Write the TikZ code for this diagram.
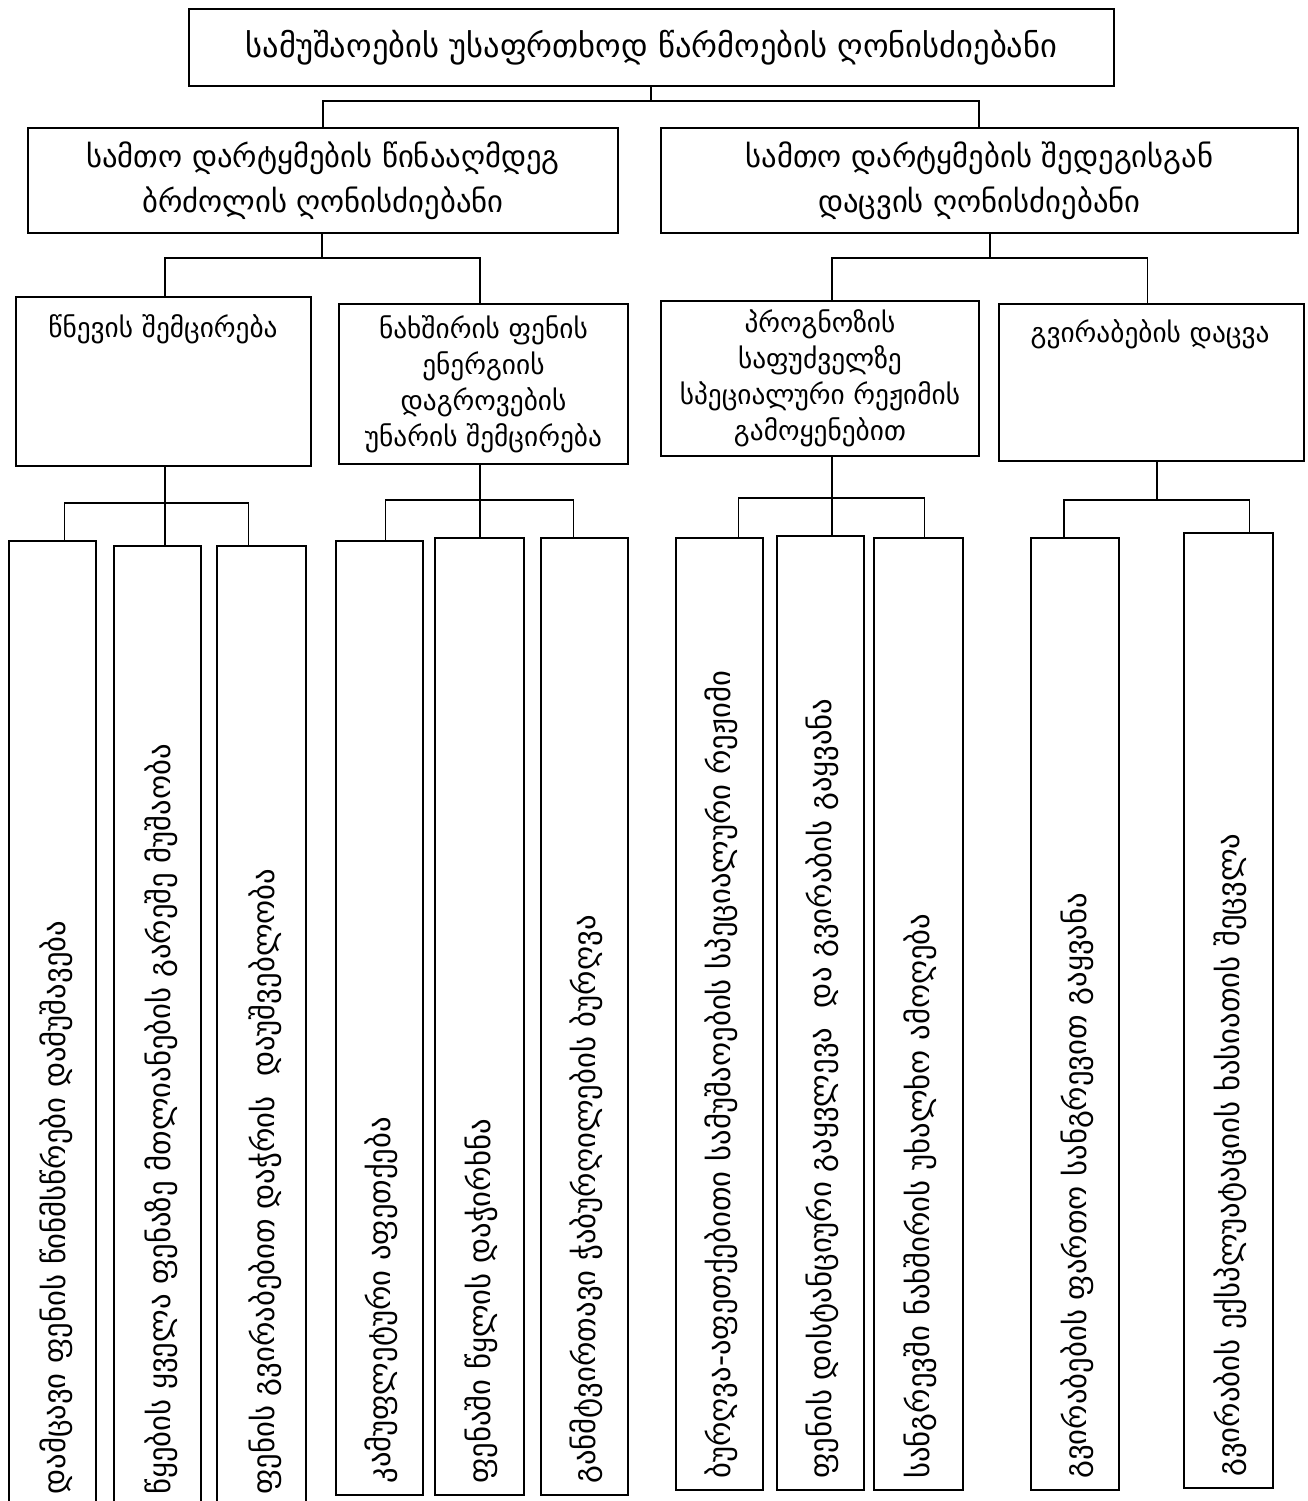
\documentclass[tikz,border=0pt]{standalone}
\usepackage{fontspec}
\setmainfont{DejaVu Sans}
\usetikzlibrary{calc}
\begin{document}
\begin{tikzpicture}[x=0.75pt,y=-0.75pt,
  box/.style={draw, line width=1.4pt, inner sep=0pt, anchor=north west, align=center},
  conn/.style={line width=1.4pt},
  ftop/.style={font=\fontsize{24.4}{30}\selectfont},
  ftwo/.style={font=\fontsize{23}{33.75}\selectfont},
  fthree/.style={font=\fontsize{20.5}{27}\selectfont},
  vtext/.style={font=\fontsize{23}{28}\selectfont, rotate=90, anchor=west, inner sep=0pt}]
\useasboundingbox (0,0) rectangle (1307,1501);
\fill[white] (0,0) rectangle (1307,1501);

% top
\node[box, ftop, minimum width={(1113-188)*0.75pt}, minimum height={(85-8)*0.75pt}] (top) at (188,8)
  {სამუშაოების უსაფრთხოდ წარმოების ღონისძიებანი};

% level 2
\node[box, ftwo, minimum width={(617-27)*0.75pt}, minimum height={(232-127)*0.75pt}] (L) at (27,127)
  {სამთო დარტყმების წინააღმდეგ\\ბრძოლის ღონისძიებანი};
\node[box, ftwo, minimum width={(1297-660)*0.75pt}, minimum height={(232-127)*0.75pt}] (R) at (660,127)
  {სამთო დარტყმების შედეგისგან\\დაცვის ღონისძიებანი};

% level 3
\node[box, minimum width={(310-15)*0.75pt}, minimum height={(465-296)*0.75pt}] (A) at (15,296) {};
\node[fthree, anchor=center] (At) at (163,329) {წნევის შემცირება};
\node[box, fthree, minimum width={(627-338)*0.75pt}, minimum height={(463-303)*0.75pt}] (B) at (338,303)
  {ნახშირის ფენის\\ენერგიის\\დაგროვების\\უნარის შემცირება};
\node[box, fthree, minimum width={(978-660)*0.75pt}, minimum height={(455-300)*0.75pt}] (C) at (660,300)
  {პროგნოზის\\საფუძველზე\\სპეციალური რეჟიმის\\გამოყენებით};
\node[box, minimum width={(1303-998)*0.75pt}, minimum height={(460-303)*0.75pt}] (D) at (998,303) {};
\node[fthree, anchor=center] (Dt) at (1150,334) {გვირაბების დაცვა};

% level 4 boxes
\node[box, minimum width={(95-8)*0.75pt},   minimum height={(1505-540)*0.75pt}] (b1) at (8,540) {};
\node[box, minimum width={(200-113)*0.75pt}, minimum height={(1505-545)*0.75pt}] (b2) at (113,545) {};
\node[box, minimum width={(305-216)*0.75pt}, minimum height={(1505-545)*0.75pt}] (b3) at (216,545) {};
\node[box, minimum width={(422-335)*0.75pt}, minimum height={(1494-540)*0.75pt}] (b4) at (335,540) {};
\node[box, minimum width={(523-434)*0.75pt}, minimum height={(1494-537)*0.75pt}] (b5) at (434,537) {};
\node[box, minimum width={(627-540)*0.75pt}, minimum height={(1494-537)*0.75pt}] (b6) at (540,537) {};
\node[box, minimum width={(762-675)*0.75pt}, minimum height={(1489-537)*0.75pt}] (b7) at (675,537) {};
\node[box, minimum width={(863-776)*0.75pt}, minimum height={(1489-535)*0.75pt}] (b8) at (776,535) {};
\node[box, minimum width={(962-873)*0.75pt}, minimum height={(1489-537)*0.75pt}] (b9) at (873,537) {};
\node[box, minimum width={(1118-1030)*0.75pt}, minimum height={(1489-537)*0.75pt}] (b10) at (1030,537) {};
\node[box, minimum width={(1272-1183)*0.75pt}, minimum height={(1487-532)*0.75pt}] (b11) at (1183,532) {};

% vertical texts
\node[vtext] (t1) at ($(b1.south)+(4,-12)$) {დამცავი ფენის წინმსწრები დამუშავება};
\node[vtext] (t2) at ($(b2.south)+(4,-12)$) {წყების ყველა ფენაზე მთლიანების გარეშე მუშაობა};
\node[vtext] (t3) at ($(b3.south)+(4,-12)$) {ფენის გვირაბებით დაჭრის\ \ დაუშვებლობა};
\node[vtext] (t4) at ($(b4.south)+(2,-12)$) {კამუფლეტური აფეთქება};
\node[vtext] (t5) at ($(b5.south)+(2,-12)$) {ფენაში წყლის დაჭირხნა};
\node[vtext] (t6) at ($(b6.south)+(2,-12)$) {განმტვირთავი ჭაბურღილების ბურღვა};
\node[vtext] (t7) at ($(b7.south)+(2,-12)$) {ბურღვა-აფეთქებითი სამუშაოების სპეციალური რეჟიმი};
\node[vtext] (t8) at ($(b8.south)+(2,-12)$) {ფენის დისტანციური გაყვლევა\ \ და გვირაბის გაყვანა};
\node[vtext] (t9) at ($(b9.south)+(2,-12)$) {სანგრევში ნახშირის უხალხო ამოღება};
\node[vtext] (t10) at ($(b10.south)+(2,-12)$) {გვირაბების ფართო სანგრევით გაყვანა};
\node[vtext] (t11) at ($(b11.south)+(2,-12)$) {გვირაბის ექსპლუატაციის ხასიათის შეცვლა};

% junction coordinates
\coordinate (j0) at (651,101);
\coordinate (jL) at (322,258);
\coordinate (jR) at (990,258);
\coordinate (jA) at (165,503);
\coordinate (jB) at (480,500);
\coordinate (jC) at (832,498);
\coordinate (jD) at (1157,500);

% connectors
\draw[conn] (top.south -| j0) -- (j0);
\draw[conn] (L.north) |- (j0) -| ($(R.north)+(-0.5,0)$);
\draw[conn] (L.south -| jL) -- (jL);
\draw[conn] (A.north -| jA) |- (jL) -| (B.north -| jB);
\draw[conn] (R.south -| jR) -- (jR);
\draw[conn] (C.north -| jC) |- (jR) -| ($(D.north)+(-4,0)$);

\draw[conn] (A.south -| jA) -- (jA);
\draw[conn] ($(b1.north)+(12,0)$) |- (jA) -| ($(b3.north)+(-13,0)$);
\draw[conn] (jA) -- (b2.north -| jA);

\draw[conn] (B.south -| jB) -- (jB);
\draw[conn] ($(b4.north)+(6,0)$) |- (jB) -| ($(b6.north)+(-11,0)$);
\draw[conn] (jB) -- (b5.north -| jB);

\draw[conn] (C.south -| jC) -- (jC);
\draw[conn] ($(b7.north)+(19,0)$) |- (jC) -| ($(b9.north)+(6,0)$);
\draw[conn] (jC) -- (b8.north -| jC);

\draw[conn] (D.south -| jD) -- (jD);
\draw[conn] ($(b10.north)+(-11,0)$) |- (jD) -| ($(b11.north)+(21,0)$);
\end{tikzpicture}
\end{document}
